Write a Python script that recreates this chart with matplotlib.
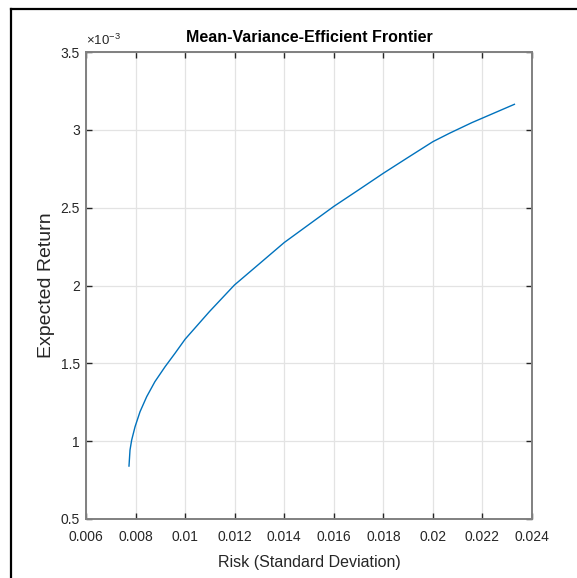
import matplotlib
matplotlib.use("Agg")
import matplotlib.pyplot as plt
from matplotlib.ticker import FuncFormatter
from matplotlib.lines import Line2D

# efficient frontier points
risk = [0.007735, 0.007776, 0.007843, 0.00798, 0.00818, 0.00845, 0.00878,
        0.00919, 0.00959, 0.01000, 0.01098, 0.01199, 0.01300, 0.01400,
        0.01500, 0.01600, 0.01700, 0.01800, 0.01900, 0.02000, 0.02067,
        0.02157, 0.02329]
ret = [0.840e-3, 0.943e-3, 1.007e-3, 1.093e-3, 1.189e-3, 1.286e-3, 1.382e-3,
       1.478e-3, 1.564e-3, 1.655e-3, 1.832e-3, 2.003e-3, 2.140e-3, 2.276e-3,
       2.392e-3, 2.508e-3, 2.614e-3, 2.721e-3, 2.823e-3, 2.924e-3, 2.978e-3,
       3.046e-3, 3.164e-3]

x_ticks = [0.006, 0.008, 0.01, 0.012, 0.014, 0.016, 0.018, 0.02, 0.022, 0.024]
y_ticks = [0.5e-3, 1e-3, 1.5e-3, 2e-3, 2.5e-3, 3e-3, 3.5e-3]

plt.rcParams["font.family"] = ["Liberation Sans", "DejaVu Sans"]
plt.rcParams["mathtext.fontset"] = "custom"
plt.rcParams["mathtext.rm"] = "Liberation Sans"

W, H = 577, 578
fig = plt.figure(figsize=(W / 100, H / 100), dpi=100)
ax = fig.add_axes([86 / W, 1 - 519 / H, 446 / W, 467 / H])

ax.plot(risk, ret, color="#0072BD", linewidth=1.0)

ax.set_xlim(0.006, 0.024)
ax.set_ylim(0.5e-3, 3.5e-3)
ax.set_xticks(x_ticks)
ax.set_yticks(y_ticks)
ax.xaxis.set_major_formatter(FuncFormatter(lambda v, p: f"{v:g}"))
ax.yaxis.set_major_formatter(FuncFormatter(lambda v, p: f"{v * 1e3:g}"))

ax.grid(True, color="#e3e3e3", linewidth=0.9)
ax.set_axisbelow(True)
ax.tick_params(direction="in", length=4, width=1, color="#262626",
               top=True, right=True, labelsize=10, labelcolor="#262626",
               pad=4.5)
ax.tick_params(axis="x", pad=8)
for s in ax.spines.values():
    s.set_color("#808080")
    s.set_linewidth(1.4)

ax.text(0.0, 1.008, r"$\times\mathdefault{10^{-3}}$", transform=ax.transAxes,
        fontsize=9.5, color="#262626", ha="left", va="bottom")

ax.set_title("Mean-Variance-Efficient Frontier", fontsize=11.5,
             fontweight="bold", pad=7)
ax.set_xlabel("Risk (Standard Deviation)", fontsize=11.5, color="#262626")
ax.xaxis.set_label_coords(0.5, -0.078)
ax.set_ylabel("Expected Return", fontsize=14, color="#262626")
ax.yaxis.set_label_coords(-0.07, 0.5)

# black frame around the figure (left and top visible)
fig.add_artist(Line2D([10.5 / W, 10.5 / W], [0, 1 - 9 / H], color="black",
                      linewidth=1.6, transform=fig.transFigure))
fig.add_artist(Line2D([10.5 / W, 1], [1 - 9 / H, 1 - 9 / H], color="black",
                      linewidth=1.6, transform=fig.transFigure))

fig.savefig("out.png", dpi=100)
